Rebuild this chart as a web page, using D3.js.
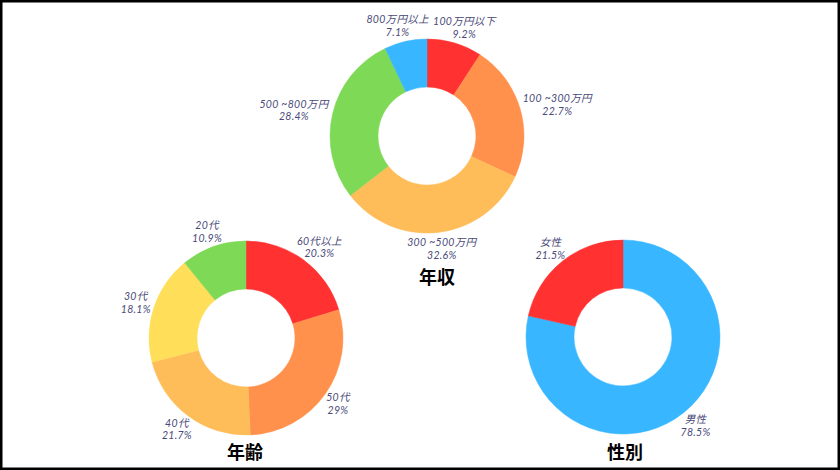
<!DOCTYPE html>
<html><head><meta charset="utf-8">
<script src="https://cdn.jsdelivr.net/npm/d3@7"></script>
<style>
html,body{margin:0;padding:0;background:#fff;}
svg{display:block;}
</style></head>
<body>
<svg id="chart" width="840" height="470"></svg>
<script>
// ---- data ----
const incomeLabels = ["100万円以下", "100 ~300万円", "300 ~500万円", "500 ~800万円", "800万円以上"];
const incomeValues = [9.2, 22.7, 32.6, 28.4, 7.1];
const incomeColors = ["#FF3131", "#FF914D", "#FFBD59", "#7ED957", "#38B6FF"];

const ageLabels = ["60代以上", "50代", "40代", "30代", "20代"];
const ageValues = [20.3, 29, 21.7, 18.1, 10.9];
const ageColors = ["#FF3131", "#FF914D", "#FFBD59", "#FFDE59", "#7ED957"];

const genderLabels = ["男性", "女性"];
const genderValues = [78.5, 21.5];
const genderColors = ["#38B6FF", "#FF3131"];

const titles = ["年収", "年齢", "性別"];

// ---- layout ----
const charts = [
  {title: titles[0], labels: incomeLabels, values: incomeValues, colors: incomeColors, cx: 427, cy: 136, tx: 437, ty: 276},
  {title: titles[1], labels: ageLabels, values: ageValues, colors: ageColors, cx: 246, cy: 338, tx: 245, ty: 451},
  {title: titles[2], labels: genderLabels, values: genderValues, colors: genderColors, cx: 623, cy: 337, tx: 625, ty: 451}
];
const R = 97, r0 = 49, labelGap = 4;

const svg = d3.select("#chart");
svg.append("rect").attr("x", 0).attr("y", 0).attr("width", 840).attr("height", 470)
  .attr("fill", "#fff").attr("stroke", "#000").attr("stroke-width", 5);

const pie = d3.pie().sort(null).value(d => d.v);
const arc = d3.arc().innerRadius(r0).outerRadius(R);

charts.forEach(c => {
  const data = c.values.map((v, i) => ({v, label: c.labels[i], color: c.colors[i]}));
  const g = svg.append("g").attr("transform", `translate(${c.cx},${c.cy})`);
  const arcs = pie(data);
  g.selectAll("path").data(arcs).join("path")
    .attr("d", arc).attr("fill", d => d.data.color)
    .attr("stroke", d => d.data.color).attr("stroke-width", 0.5);

  const lab = g.selectAll("text.lab").data(arcs).join("text")
    .attr("class", "lab")
    .attr("font-family", "Lato, 'Noto Sans CJK JP', sans-serif")
    .attr("font-style", "italic")
    .attr("font-size", 10.5)
    .attr("letter-spacing", 0.3)
    .attr("fill", "#4a4a78")
    .attr("text-anchor", "middle");
  lab.append("tspan").attr("x", 0).attr("dy", "-0.25em").text(d => d.data.label);
  lab.append("tspan").attr("x", 0).attr("dy", "1.2em").text(d => d.data.v + "%");
  lab.each(function(d) {
    const bb = this.getBBox();
    const a = (d.startAngle + d.endAngle) / 2;
    const s = Math.sin(a), co = Math.cos(a);
    const px = (R + labelGap) * s + s * bb.width / 2;
    const py = -(R + labelGap) * co - co * bb.height / 2;
    const bcx = bb.x + bb.width / 2, bcy = bb.y + bb.height / 2;
    d3.select(this).attr("transform", `translate(${px - bcx},${py - bcy})`);
  });

  svg.append("text").attr("x", c.tx).attr("y", c.ty)
    .attr("text-anchor", "middle").attr("dominant-baseline", "central")
    .attr("font-family", "'Noto Sans CJK JP', sans-serif")
    .attr("font-weight", "bold").attr("font-size", 18).attr("fill", "#000")
    .text(c.title);
});
</script>
</body></html>
